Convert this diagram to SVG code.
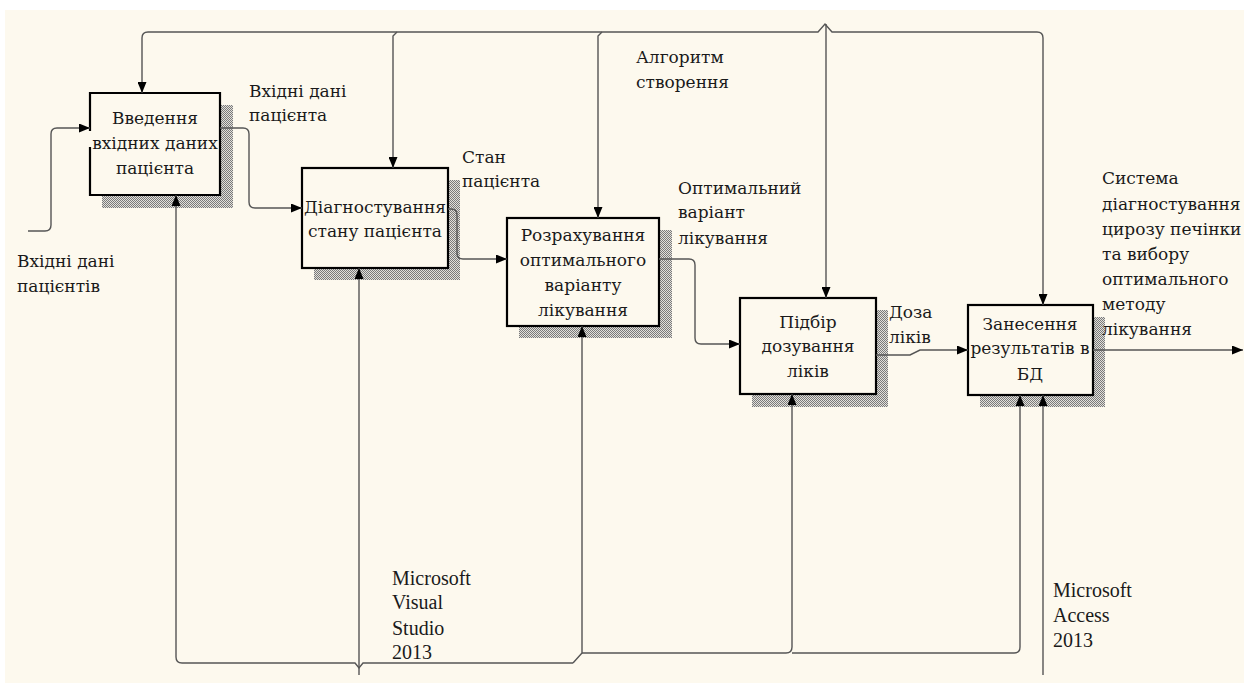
<svg xmlns="http://www.w3.org/2000/svg" width="1244" height="685" viewBox="0 0 1244 685">
<style>
.t{font-family:"DejaVu Serif","Liberation Serif",serif;font-size:17px;fill:#1a1a1a}
.l{font-family:"Liberation Serif","Times New Roman",serif;font-size:20px;fill:#1a1a1a}
.c{text-anchor:middle}
.box{fill:#FDF9EE;stroke:#000;stroke-width:2.2}
.sh{fill:url(#hatch)}
.ln{fill:none;stroke:#555;stroke-width:1.4}
.ar{marker-end:url(#arr)}
</style>
<defs>
<pattern id="hatch" width="2" height="2" patternUnits="userSpaceOnUse">
<rect width="2" height="2" fill="#e2e0da"/>
<rect width="1" height="1" fill="#7a7a7a"/>
<rect x="1" y="1" width="1" height="1" fill="#7a7a7a"/>
</pattern>
<marker id="arr" viewBox="0 0 11 9" refX="11" refY="4.5" markerWidth="11" markerHeight="9" markerUnits="userSpaceOnUse" orient="auto">
<path d="M0,0 L11,4.5 L0,9 z" fill="#000"/>
</marker>
</defs>
<rect x="0" y="0" width="1244" height="685" fill="#fff"/>
<rect x="5" y="10" width="1239" height="673" fill="#FDF9EE"/>

<g id="node1">
<rect class="sh" x="102" y="105" width="131" height="103"/>
<rect x="90" y="93" width="130" height="102" fill="#FDF9EE"/>
<path d="M90,131 L90,93 L220,93 L220,195 L90,195 L90,147" fill="none" stroke="#000" stroke-width="2.2"/>
<text class="t c" x="155" y="124">Введення</text>
<text class="t c" x="155" y="149">вхідних даних</text>
<text class="t c" x="155" y="174">пацієнта</text>
</g>
<g id="node2">
<rect class="sh" x="314" y="180" width="146" height="100"/>
<rect class="box" x="302" y="168" width="146" height="100"/>
<text class="t c" x="375" y="213">Діагностування</text>
<text class="t c" x="375" y="237">стану пацієнта</text>
</g>
<g id="node3">
<rect class="sh" x="519" y="230" width="153" height="108"/>
<rect class="box" x="507" y="218" width="152" height="108"/>
<text class="t c" x="583" y="241">Розрахування</text>
<text class="t c" x="583" y="266">оптимального</text>
<text class="t c" x="583" y="291">варіанту</text>
<text class="t c" x="583" y="316">лікування</text>
</g>
<g id="node4">
<rect class="sh" x="752" y="310" width="136" height="97"/>
<rect class="box" x="740" y="298" width="136" height="96"/>
<text class="t c" x="808" y="328">Підбір</text>
<text class="t c" x="808" y="352">дозування</text>
<text class="t c" x="808" y="377">ліків</text>
</g>
<g id="node5">
<rect class="sh" x="980" y="317" width="125" height="90"/>
<rect class="box" x="968" y="305" width="125" height="90"/>
<text class="t c" x="1030" y="330">Занесення</text>
<text class="t c" x="1030" y="354">результатів в</text>
<text class="t c" x="1030" y="380">БД</text>
</g>

<g id="connectors">
<path class="ln ar" d="M148,32 L818,32 L825,24 L832,32 L1037,32 Q1043,32 1043,38 L1043,305"/>
<path class="ln ar" d="M148,32 Q142,32 142,38 L142,93"/>
<path class="ln ar" d="M397,32 L393,36 L393,168"/>
<path class="ln ar" d="M602,32 L598,36 L598,218"/>
<path class="ln ar" d="M826,24 L826,298"/>

<path class="ln ar" d="M28,231 L45,231 Q51,231 51,225 L51,134 Q51,128 57,128 L90,128"/>
<path class="ln ar" d="M220,128 L243,128 Q249,128 249,134 L249,202 Q249,208 255,208 L302,208"/>
<path class="ln ar" d="M448,209 L451,209 Q457,209 457,215 L457,253 Q457,259 463,259 L507,259"/>
<path class="ln ar" d="M659,259 L689,259 Q695,259 695,265 L695,338 Q695,344 701,344 L740,344"/>
<path class="ln ar" d="M876,355 L910,355 L920,350 L968,350"/>
<path class="ln ar" d="M1093,350 L1243,350"/>

<path class="ln ar" d="M359,675 L359,268"/>
<path class="ln ar" d="M573,663 L363,663 L359,668 L355,663 L182,663 Q176,663 176,657 L176,195"/>
<path class="ln ar" d="M573,663 L582,653 L582,326"/>
<path class="ln ar" d="M582,653 L786,653 Q792,653 792,647 L792,394"/>
<path class="ln ar" d="M792,653 L1014,653 Q1020,653 1020,647 L1020,395"/>
<path class="ln ar" d="M1043,675 L1043,395"/>
</g>

<g id="labels">
<text class="t" x="249" y="97">Вхідні дані</text>
<text class="t" x="249" y="121">пацієнта</text>
<text class="t" x="17" y="267">Вхідні дані</text>
<text class="t" x="17" y="292">пацієнтів</text>
<text class="t" x="636" y="63">Алгоритм</text>
<text class="t" x="636" y="88">створення</text>
<text class="t" x="462" y="163">Стан</text>
<text class="t" x="462" y="187">пацієнта</text>
<text class="t" x="678" y="194">Оптимальний</text>
<text class="t" x="678" y="218">варіант</text>
<text class="t" x="678" y="244">лікування</text>
<text class="t" x="1102" y="184">Система</text>
<text class="t" x="1102" y="210">діагностування</text>
<text class="t" x="1102" y="235">цирозу печінки</text>
<text class="t" x="1102" y="260">та вибору</text>
<text class="t" x="1102" y="285">оптимального</text>
<text class="t" x="1102" y="310">методу</text>
<text class="t" x="1102" y="335">лікування</text>
<text class="t" x="889" y="318">Доза</text>
<text class="t" x="889" y="343">ліків</text>
<text class="l" x="392" y="585">Microsoft</text>
<text class="l" x="392" y="609">Visual</text>
<text class="l" x="392" y="635">Studio</text>
<text class="l" x="392" y="659">2013</text>
<text class="l" x="1053" y="597">Microsoft</text>
<text class="l" x="1053" y="622">Access</text>
<text class="l" x="1053" y="647">2013</text>
</g>
</svg>
